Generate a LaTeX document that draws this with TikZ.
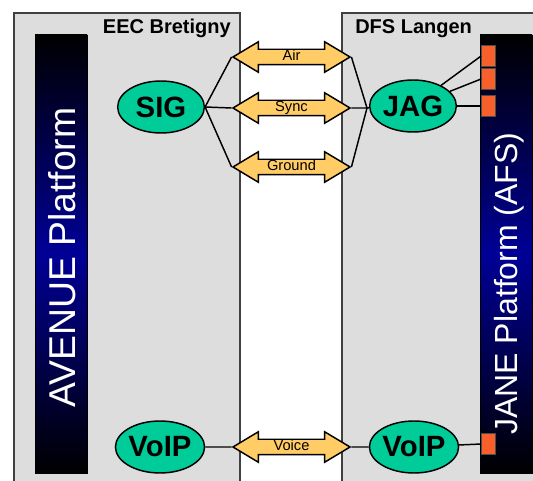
\documentclass[tikz,border=0pt]{standalone}
\usepackage{fontspec}
\setmainfont{Liberation Sans}
\usetikzlibrary{shapes.geometric,shapes.arrows}
\definecolor{sitegray}{RGB}{221,221,221}
\definecolor{sitedraw}{RGB}{64,64,64}
\definecolor{gwgreen}{RGB}{0,204,153}
\definecolor{linkorange}{RGB}{255,204,102}
\definecolor{portorange}{RGB}{247,96,42}
\definecolor{platblue}{RGB}{0,0,150}

\begin{document}
\begin{tikzpicture}[x=0.75pt, y=-0.75pt,
  site/.style={fill=sitegray, draw=sitedraw, line width=1.1pt},
  platform/.style={top color=black, bottom color=black, middle color=platblue, draw=black, line width=0.6pt},
  gw/.style={ellipse, fill=gwgreen, draw=black, line width=1.1pt, minimum width=65pt, minimum height=39pt, inner sep=0pt, font=\fontsize{22}{24}\selectfont\bfseries},
  link/.style={double arrow, fill=linkorange, draw=black, line width=1.1pt, minimum height=87.75pt, double arrow head extend=5.6pt, double arrow tip angle=62, inner sep=0pt, text height=8pt, text depth=2.5pt, font=\fontsize{11}{12}\selectfont},
  port/.style={rectangle, fill=portorange, draw=black!70, line width=0.6pt, minimum width=10.5pt, minimum height=15.75pt, inner sep=0pt},
  wire/.style={line width=1.1pt},
  sitename/.style={font=\fontsize{15}{18}\selectfont\bfseries, inner sep=0pt},
  platname/.style={rotate=90, anchor=base west, text=white, inner sep=0pt}]

\clip (0,0) rectangle (533,481);
\fill[white] (0,0) rectangle (533,481);
\draw[site] (14,13) rectangle (240,495);
\draw[site] (342,13) rectangle (545,495);
\draw[platform] (35,35) rectangle (87,473);
\draw[platform] (480,35) rectangle (532,473);

\node[sitename, anchor=base east] (eec) at (231,34) {EEC Bretigny};
\node[sitename, anchor=base west] (dfs) at (355,34) {DFS Langen};
\node[platname, font=\fontsize{28}{30}\selectfont] (avenue) at (75,408) {AVENUE Platform};
\node[platname, font=\fontsize{24}{26}\selectfont] (jane) at (517,435) {JANE Platform (AFS)};

\node[gw] (sig) at (161,107) {SIG};
\node[gw] (jag) at (413,106) {JAG};
\node[gw] (voipl) at (160,447) {VoIP};
\node[gw] (voipr) at (414,447) {VoIP};

\node[link] (air) at (291.5,57) {Air};
\node[link] (sync) at (291.5,108) {Sync};
\node[link] (ground) at (291.5,167) {Ground};
\node[link] (voice) at (291.5,447) {Voice};

\node[port] (p1) at (488.5,56) {};
\node[port] (p2) at (488.5,79) {};
\node[port] (p3) at (488.5,106) {};
\node[port] (p4) at (488.5,444) {};

\coordinate (jn) at (367,108);

\foreach \l in {air,sync,ground} {
  \draw[wire] (sig.east) -- (\l.west);
  \draw[wire] (\l.east) -- (jn);
}
\draw[wire] (jn) -- (jag);
\foreach \p in {p1,p2,p3}
  \draw[wire] (jag) -- (\p.west);
\draw[wire] (voipl) -- (voice.west);
\draw[wire] (voice.east) -- (voipr);
\draw[wire] (voipr) -- (p4.west);
\end{tikzpicture}
\end{document}
